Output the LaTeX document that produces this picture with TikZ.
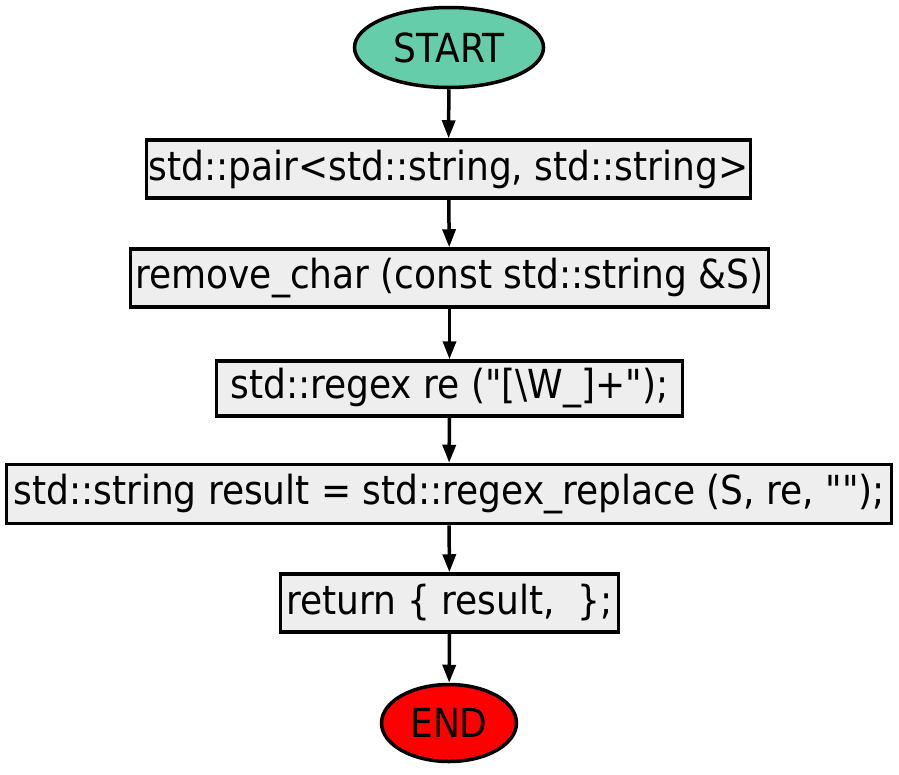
\documentclass[tikz,border=0pt]{standalone}
\usepackage{fontspec}
\setmainfont{DejaVu Sans Condensed}
\usetikzlibrary{arrows.meta,positioning,shapes.geometric}

\definecolor{startgreen}{HTML}{66CDAA}
\definecolor{boxgray}{HTML}{EEEEEE}
\definecolor{endred}{HTML}{FF0000}

\tikzset{
  term/.style={ellipse, draw, line width=3.5pt, inner sep=0pt, font=\fontsize{40}{46}\selectfont},
  stepbox/.style={rectangle, draw, line width=3.5pt, fill=boxgray, inner sep=0pt,
    minimum height=58pt, font=\fontsize{40}{46}\selectfont},
  flow/.style={line width=3.5pt, -{Triangle[length=18pt,width=13pt]}}
}

\begin{document}
\begin{tikzpicture}[x=1pt,y=1pt]
\useasboundingbox (0,0) rectangle (899,-774);

\node[term, fill=startgreen, minimum width=189pt, minimum height=80pt] (start) at (449,-47.5) {START};
\node[stepbox, minimum width=604pt] (pair) at (448.5,-169) {std::pair<std::string, std::string>};
\node[stepbox, minimum width=638pt] (func) at (449.5,-278) {remove\_char (const std::string \&S)};
\node[stepbox, minimum width=466pt, minimum height=55pt] (regex) at (449.5,-388.5) {std::regex re (\textquotedbl[\textbackslash W\_]+\textquotedbl);};
\node[stepbox, minimum width=885pt, minimum height=59pt] (repl) at (449,-494) {std::string result = std::regex\_replace (S, re, \textquotedbl\textquotedbl);};
\node[stepbox, minimum width=338pt] (ret) at (449.5,-603) {return \{ result, \ \};};
\node[term, fill=endred, minimum width=135pt, minimum height=77pt] (end) at (449,-723) {END};

\draw[flow] (start) -- (pair);
\draw[flow] (pair) -- (func);
\draw[flow] (func) -- (regex);
\draw[flow] (regex) -- (repl);
\draw[flow] (repl) -- (ret);
\draw[flow] (ret) -- (end);
\end{tikzpicture}
\end{document}
